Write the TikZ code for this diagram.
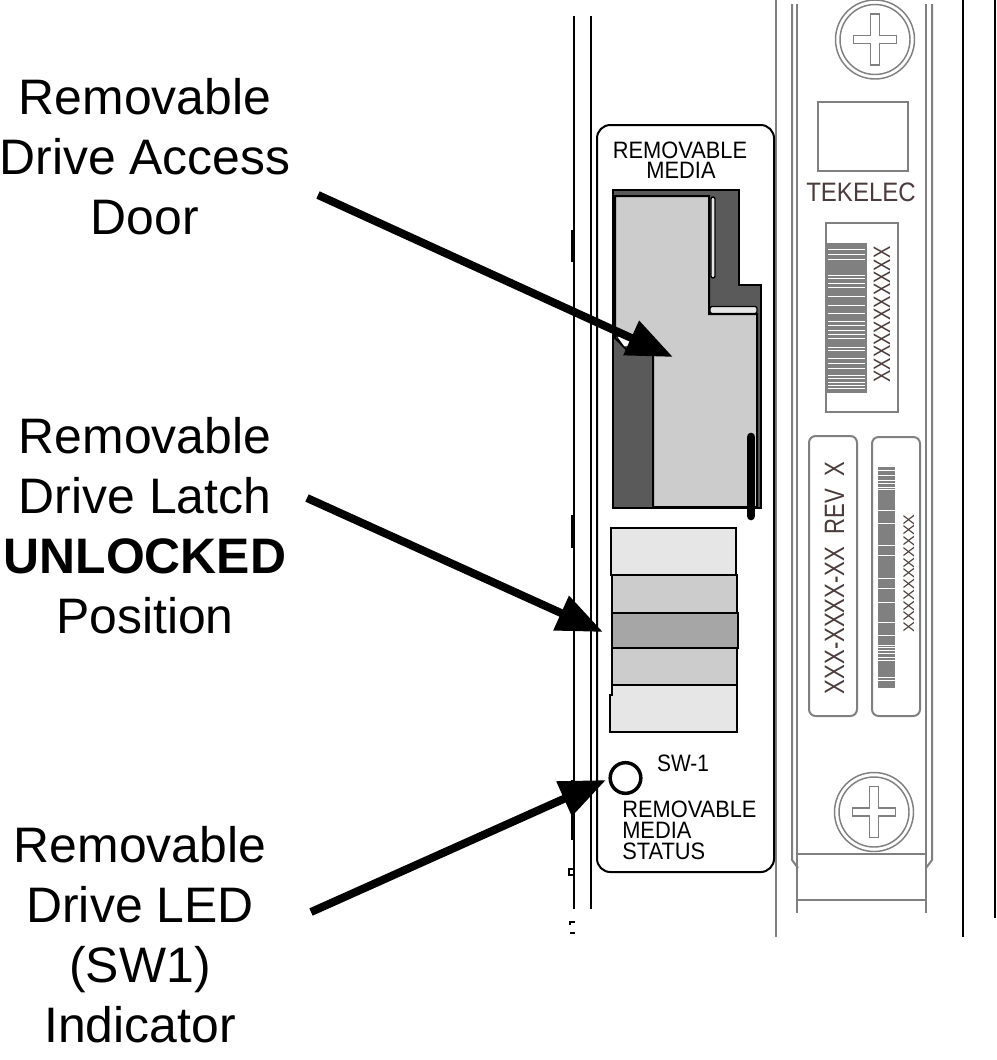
\documentclass[tikz,border=0pt]{standalone}
\usepackage{fontspec}
\setmainfont{Liberation Sans}
\usetikzlibrary{arrows.meta}
\newcommand{\sq}[2]{\scalebox{#1}[1]{#2}}
\definecolor{gray7}{HTML}{808080}
\definecolor{decalc}{HTML}{4A3C3C}
\definecolor{doordark}{HTML}{5A5A5A}
\definecolor{doorlight}{HTML}{CCCCCC}
\definecolor{latchA}{HTML}{E6E6E6}
\definecolor{latchB}{HTML}{CCCCCC}
\definecolor{latchC}{HTML}{A6A6A6}
\tikzset{
  px/.style={x=0.75pt,y=-0.75pt},
  blk/.style={draw=black,line width=1.5pt},
  gry/.style={draw=gray7,line width=1.5pt},
  thin gry/.style={draw=gray7,line width=1.1pt},
  stub/.style={draw=black,line width=2.25pt},
  callout/.style={font=\fontsize{37.4}{45}\selectfont,align=center,inner sep=0pt,text=black},
  pointer/.style={draw=black,line width=6pt,-{Triangle[length=34.5pt,width=27pt]}},
  lbl/.style={inner sep=0pt,text=black,font=\fontsize{17.8}{20}\selectfont},
  decal/.style={inner sep=0pt,text=decalc},
  zone/.style={draw=black,line width=1.9pt},
  stripe/.style={draw=white,line width=0.6pt},
  slot/.style={draw=black,line width=1pt,fill=latchA,rounded corners=1.5pt},
}
\begin{document}
\begin{tikzpicture}[px]
\useasboundingbox (0,0) rectangle (996,1060);
% rails
\draw[blk] (574,16) -- (574,909);
\draw[blk] (591,16) -- (591,909);
\draw[stub] (572.5,230) -- (572.5,262);
\draw[stub] (572.5,515) -- (572.5,548);
\draw[stub] (572.5,780) -- (572.5,840);
\draw[blk,line width=1.2pt] (574,869) -- (569,869) -- (569,875) -- (574,875);
\draw[blk,line width=1.2pt] (575,922) -- (570,922) -- (570,925);
\draw[blk,line width=1.2pt] (575,933) -- (570,933);
% right plate lines
\draw[gry] (776,0) -- (776,937);
\draw[blk] (963,0) -- (963,937);
\draw[draw=black,line width=2pt] (995,0) -- (995,918);
\draw[gry] (792,4) -- (792,860) -- (798,868);
\draw[gry] (797,4) -- (797,913);
\draw[gry] (926,4) -- (926,913);
\draw[gry] (932,4) -- (932,860) -- (926,868);
\draw[gry] (797,854) -- (926,854);
\draw[gry] (797,900) -- (926,900);
% screws
\foreach \cx/\cy in {875/39.5,874/812}{
  \begin{scope}[shift={(\cx,\cy)}]
    \draw[thin gry] (0,0) circle[radius=39.5];
    \draw[thin gry] (0,0) circle[radius=35];
    \draw[thin gry] (-4.5,-25.5) -- (4.5,-25.5) -- (4.5,-4) -- (21.5,-4) -- (21.5,4) -- (4.5,4) -- (4.5,25.5) -- (-4.5,25.5) -- (-4.5,4) -- (-21.5,4) -- (-21.5,-4) -- (-4.5,-4) -- cycle;
  \end{scope}
}
% top decals
\draw[gry] (818,102) rectangle (908,171);
\node[decal,anchor=base] (tek) at (861,201) {\fontsize{20}{22}\selectfont\sq{0.9}{TEKELEC}};
\draw[gry] (826,223) rectangle (898,412);
\fill[gray7] (827,243) rectangle (867,393);
\foreach \y in {249,254,259,275,278,283,287,296,305,313,321,325,330,334,338,347,350,358,363,368,375,378,382,385,388}{
  \draw[stripe] (828,\y) -- (865,\y);
}
\node[decal,anchor=base,rotate=90] (sn) at (890,314.5) {\fontsize{17.8}{20}\selectfont\sq{0.78}{XXXXXXXXXXX}};
% lower decals
\draw[gry,rounded corners=5pt] (809,436) rectangle (857,716);
\draw[gry,rounded corners=5pt] (872,437) rectangle (920,716);
\node[decal,anchor=base,rotate=90] (rev) at (844,578) {\fontsize{21}{23}\selectfont\sq{0.79}{XXX-XXXX-XX\ \ REV\ \ X}};
\fill[gray7] (878,467) rectangle (895,688);
\foreach \y in {470,475,480,483,487,489,510,523,545,555,578,588,602,622,635,645,647,650,653,657,660,677,680}{
  \draw[stripe] (878,\y) -- (895,\y);
}
\node[decal,anchor=base,rotate=90] (sn2) at (914,573.5) {\fontsize{11.5}{13}\selectfont\sq{1.05}{XXXXXXXXXXX}};
% panel
\draw[blk,fill=white,rounded corners=10pt] (597,125) rectangle (774,872);
\node[lbl,anchor=base] (rm1) at (680,158) {\sq{0.92}{REMOVABLE}};
\node[lbl,anchor=base] (rm2) at (681,178) {\sq{0.92}{MEDIA}};
% door
\fill[doordark,draw=black,line width=1.9pt] (613,190) -- (739,190) -- (739,285) -- (761,285) -- (761,508) -- (613,508) -- cycle;
\fill[doorlight,draw=black,line width=1.5pt] (615,196) -- (709,196) -- (709,314) -- (757,314) -- (757,507) -- (653,507) -- (653,350) -- (627,350) -- (615,338) -- cycle;
\fill[white,draw=black,line width=0.8pt] (616,336) -- (624,347) -- (640,347) -- (630,336) -- cycle;
\draw[slot] (711,197) rectangle (715,278);
\draw[slot] (710,306.5) rectangle (757,313.5);
\draw[draw=black,line width=6.5pt,line cap=round] (751,437) -- (751,516);
% latch
\draw[zone,fill=latchA] (611,528) rectangle (736,575);
\draw[zone,fill=latchB] (612,575) rectangle (737,613);
\draw[zone,fill=latchB] (612,648) rectangle (737,685);
\draw[zone,fill=latchC] (612,613) rectangle (738,648);
\draw[zone,fill=latchA] (612,685) -- (737,685) -- (737,732) -- (610,732) -- (610,695) -- (612,695) -- cycle;
% LED
\node[draw=black,line width=2.6pt,circle,minimum size=23pt,inner sep=0pt] (led) at (625.5,778) {};
\node[lbl,anchor=base] (sw) at (683,771) {\sq{0.88}{SW-1}};
\node[lbl,anchor=base west] (st1) at (622,817) {\sq{0.92}{REMOVABLE}};
\node[lbl,anchor=base west] (st2) at (622,838) {\sq{0.92}{MEDIA}};
\node[lbl,anchor=base west] (st3) at (622,859) {\sq{0.92}{STATUS}};
% callouts
\node[callout] (c1) at (145,157) {Removable\\Drive Access\\Door};
\node[callout] (c2) at (145,526) {Removable\\Drive Latch\\\textbf{UNLOCKED}\\Position};
\node[callout] (c3) at (140,935) {Removable\\Drive LED\\(SW1)\\Indicator};
\coordinate (a1s) at (318,195);
\coordinate (a1e) at (673,357);
\coordinate (a2s) at (307,498);
\coordinate (a2e) at (603,632);
\coordinate (a3s) at (311,912);
\coordinate (a3e) at (606,780);
\draw[pointer] (a1s) -- (a1e);
\draw[pointer] (a2s) -- (a2e);
\draw[pointer] (a3s) -- (a3e);
\end{tikzpicture}
\end{document}
